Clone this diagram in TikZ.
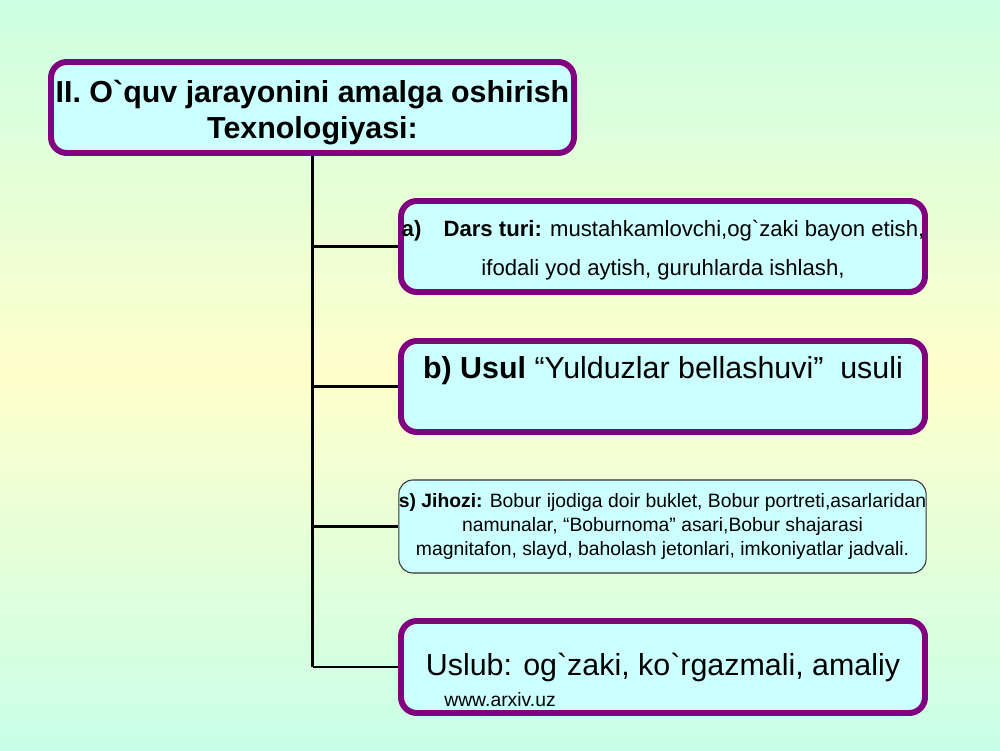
\documentclass[tikz,border=0pt]{standalone}
\usepackage{fontspec}
\setmainfont{Liberation Sans}
\usepackage{xcolor}
\usetikzlibrary{positioning}
\usetikzlibrary{arrows.meta}

\definecolor{bgtop}{RGB}{204,255,226}
\definecolor{bgmid}{RGB}{255,255,204}
\definecolor{bgbot}{RGB}{200,255,232}
\definecolor{frame}{RGB}{128,0,128}
\definecolor{boxfill}{RGB}{204,255,255}

\newcommand{\grv}{\textasciigrave}

\tikzset{
    purplebox/.style={draw=frame,line width=3.4pt,fill=boxfill,rounded corners=9pt,
        minimum width=10.48cm,minimum height=1.82cm,align=center,inner sep=0pt},
    thinbox/.style={draw=black!80,line width=0.6pt,fill=boxfill,rounded corners=8pt,
        minimum width=10.5cm,minimum height=1.86cm,align=center,inner sep=0pt},
    trunk/.style={line width=1.7pt,black}
}

\begin{document}
\begin{tikzpicture}
    % background
    \shade[top color=bgtop,bottom color=bgbot,middle color=bgmid] (0,0) rectangle (20,15);
    \useasboundingbox (0,0) rectangle (20,15);

    \node [purplebox,minimum width=10.46cm,font=\fontsize{17.3}{20.5}\selectfont\bfseries] (head) at (6.25,12.85)
        {\rule{0pt}{19pt}II. O\grv quv jarayonini amalga oshirish\\Texnologiyasi:};

    \node [purplebox,font=\fontsize{12.6}{22}\selectfont] (dars) at (13.26,10.07)
        {\rule{0pt}{13.5pt}\textbf{a)\quad Dars turi:} mustahkamlovchi,og\grv zaki bayon etish,\\ifodali yod aytish, guruhlarda ishlash,};

    \node [purplebox] (usul) at (13.26,7.27) {};
    \node [font=\fontsize{17.3}{20}\selectfont] (usultext) at ([yshift=0.31cm]usul.center)
        {\textbf{b) Usul} “Yulduzlar bellashuvi”\ \ usuli};

    \node [thinbox,font=\fontsize{11}{13.7}\selectfont] (jihoz) at (13.25,4.47)
        {\textbf{s) Jihozi:} Bobur ijodiga doir buklet, Bobur portreti,asarlaridan\\namunalar, “Boburnoma” asari,Bobur shajarasi\\magnitafon, slayd, baholash jetonlari, imkoniyatlar jadvali.};

    \node [purplebox,minimum height=1.84cm,font=\fontsize{17.3}{20}\selectfont] (uslub) at (13.26,1.66)
        {Uslub: og\grv zaki, ko\grv rgazmali, amaliy};
    \node [font=\fontsize{11}{13}\selectfont] (arxiv) at (10.0,1.0) {www.arxiv.uz};

    \draw [trunk] (head.south) -- (head.south |- uslub.west);
    \foreach \n in {dars,usul,jihoz,uslub}
        \draw [trunk] (head.south |- \n.west) -- (\n.west);
\end{tikzpicture}
\end{document}
